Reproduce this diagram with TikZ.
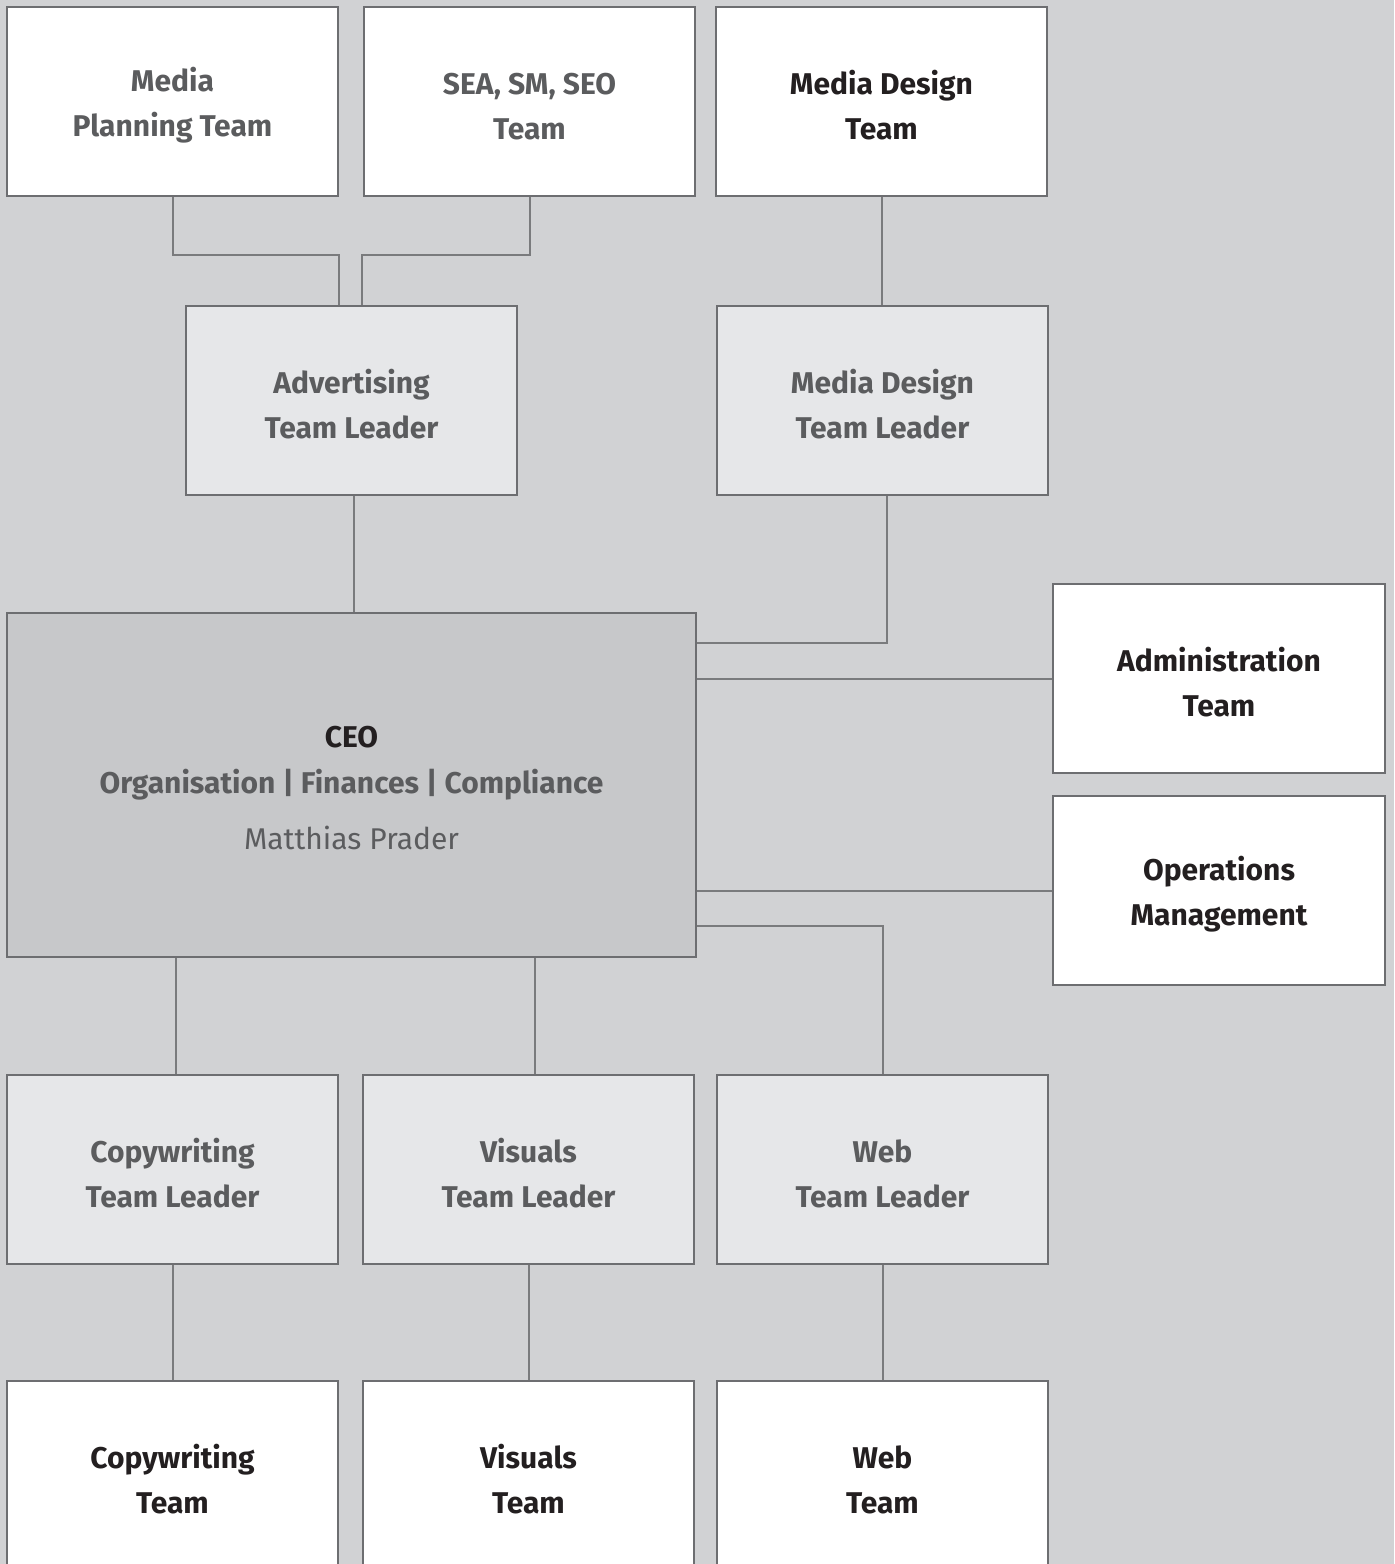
\documentclass[tikz,border=0pt]{standalone}
\usepackage{fontspec}
\setmainfont{Fira Sans}
\usetikzlibrary{positioning}
\definecolor{bgcol}{HTML}{D1D2D4}
\definecolor{framecol}{HTML}{6D6E71}
\definecolor{linecol}{HTML}{7A7B7D}
\definecolor{leadfill}{HTML}{E6E7E9}
\definecolor{ceofill}{HTML}{C7C8CA}
\definecolor{greytext}{HTML}{5B5C5E}
\definecolor{darktext}{HTML}{231F20}
\newcommand{\boxtext}[2]{\rule{0pt}{16pt}#1\\#2}
\tikzset{
	unitbox/.style={shape=rectangle, draw=framecol, line width=1pt, minimum width=165.5pt, minimum height=94.5pt, align=center, font=\fontsize{15}{22.5}\selectfont\bfseries, inner sep=0pt},
	teambox/.style={unitbox, fill=white, text=darktext},
	greybox/.style={unitbox, fill=white, text=greytext},
	leadbox/.style={unitbox, fill=leadfill, text=greytext},
	link/.style={draw=linecol, line width=1pt}
}
\begin{document}
\begin{tikzpicture}[x=0.5pt, y=-0.5pt]
	\fill[bgcol] (0,0) rectangle (1394,1564);
	\useasboundingbox (0,0) rectangle (1394,1564);
	\begin{scope}
	\clip (0,0) rectangle (1394,1564);
	% top row
	\draw (172.5,101.5) node[greybox](mplan){\boxtext{Media}{Planning Team}};
	\draw (529.5,101.5) node[greybox](sea){\boxtext{SEA, SM, SEO}{Team}};
	\draw (881.5,101.5) node[teambox](mdteam){\boxtext{Media Design}{Team}};
	% team leaders above
	\draw (351.5,400.5) node[leadbox](advtl){\boxtext{Advertising}{Team Leader}};
	\draw (882.5,400.5) node[leadbox](mdtl){\boxtext{Media Design}{Team Leader}};
	% CEO
	\draw (351.5,785) node[unitbox, fill=ceofill, minimum width=344.5pt, minimum height=172pt, font=\fontsize{15}{23}\selectfont](ceo){%
		\rule{0pt}{13.5pt}\textcolor{darktext}{\bfseries CEO}\\
		\textcolor{greytext}{\bfseries Organisation | Finances | Compliance}\\[5pt]
		\textcolor{greytext}{\mdseries Matthias Prader}};
	% staff
	\draw (1219,678.5) node[teambox, minimum width=166pt](admin){\boxtext{Administration}{Team}};
	\draw (1219,890.5) node[teambox, minimum width=166pt](ops){\boxtext{Operations}{Management}};
	% team leaders below
	\draw (172.5,1169) node[leadbox](cwtl){\boxtext{Copywriting}{Team Leader}};
	\draw (528.5,1169) node[leadbox](vistl){\boxtext{Visuals}{Team Leader}};
	\draw (882.5,1169.5) node[leadbox](webtl){\boxtext{Web}{Team Leader}};
	% bottom row
	\draw (172.5,1475.5) node[teambox](cwteam){\boxtext{Copywriting}{Team}};
	\draw (528.5,1475.5) node[teambox](visteam){\boxtext{Visuals}{Team}};
	\draw (882.5,1475.5) node[teambox](webteam){\boxtext{Web}{Team}};
	
	\draw [link](mplan.south) -- ++(0,58) -| ([xshift=-6.25pt]advtl.north);
	\draw [link](sea.south) -- ++(0,58) -| ([xshift=5.25pt]advtl.north);
	\draw [link](mdteam.south) -- (mdteam.south |- mdtl.north);
	\draw [link]([xshift=1.25pt]advtl.south) -- ([xshift=1.25pt]advtl.south |- ceo.north);
	\draw [link]([xshift=2.25pt]mdtl.south) |- ([yshift=71pt]ceo.east);
	\draw [link](admin.west) -- (admin.west -| ceo.east);
	\draw [link](ops.west) -- (ops.west -| ceo.east);
	\draw [link]([yshift=-70.5pt]ceo.east) -| (webtl.north);
	\draw [link]([xshift=1.75pt]cwtl.north) -- ([xshift=1.75pt]cwtl.north |- ceo.south);
	\draw [link]([xshift=3.25pt]vistl.north) -- ([xshift=3.25pt]vistl.north |- ceo.south);
	\draw [link](cwtl.south) -- (cwteam.north);
	\draw [link](vistl.south) -- (visteam.north);
	\draw [link](webtl.south) -- (webteam.north);
	\end{scope}
\end{tikzpicture}
\end{document}
